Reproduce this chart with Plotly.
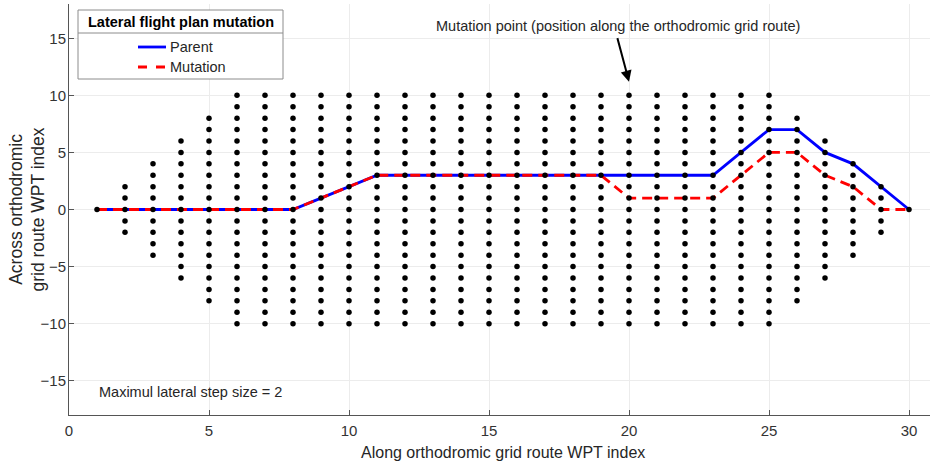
import plotly.graph_objects as go

wpt = list(range(1, 31))
half_width = [0, 2, 4, 6, 8] + [10] * 20 + [8, 6, 4, 2, 0]
parent = [0, 0, 0, 0, 0, 0, 0, 0, 1, 2, 3, 3, 3, 3, 3, 3, 3, 3, 3, 3, 3, 3, 3, 5, 7, 7, 5, 4, 2, 0]
mutation = [0, 0, 0, 0, 0, 0, 0, 0, 1, 2, 3, 3, 3, 3, 3, 3, 3, 3, 3, 1, 1, 1, 1, 3, 5, 5, 3, 2, 0, 0]
mutation_point = 20
legend_title = "Lateral flight plan mutation"
series_names = ["Parent", "Mutation"]
series_colors = ["#0000ff", "#ff0000"]
series_dash = ["solid", "10px,6px"]

gx, gy = [], []
for x, h in zip(wpt, half_width):
    for y in range(-h, h + 1):
        gx.append(x)
        gy.append(y)

FONT = "Liberation Sans, Arial, sans-serif"
TXT = "#262626"
W, H = 930, 462
ML, MR, MT, MB = 69, 0, 4, 47
PW, PH = W - ML - MR, H - MT - MB


def px(x):
    return (x - ML) / PW


def py(y):
    return (H - MB - y) / PH


fig = go.Figure()
fig.add_trace(go.Scatter(x=wpt, y=parent, mode="lines", name=series_names[0], showlegend=False,
                         line=dict(color=series_colors[0], width=2.8, dash=series_dash[0])))
fig.add_trace(go.Scatter(x=wpt, y=mutation, mode="lines", name=series_names[1], showlegend=False,
                         line=dict(color=series_colors[1], width=2.8, dash=series_dash[1])))
fig.add_trace(go.Scatter(x=gx, y=gy, mode="markers", showlegend=False,
                         marker=dict(color="black", size=5.5)))

# arrow to the mutation point
fig.add_annotation(x=mutation_point, y=11.2, ax=-12, ay=-45,
                   showarrow=True, arrowhead=2, arrowsize=1.1, arrowwidth=2,
                   arrowcolor="black", text="")
fig.add_annotation(x=19.59, y=16.09, showarrow=False, xanchor="center", yanchor="middle",
                   text="Mutation point (position along the orthodromic grid route)",
                   font=dict(size=14.5, color=TXT, family=FONT))
fig.add_annotation(x=1.0, y=-15.96, showarrow=False, xanchor="left", yanchor="middle",
                   text="Maximul lateral step size = 2",
                   font=dict(size=14.5, color=TXT, family=FONT))

# axis titles
fig.add_annotation(xref="paper", yref="paper", x=0.5, y=0, yshift=-37, xshift=3,
                   showarrow=False, xanchor="center", yanchor="middle",
                   text="Along orthodromic grid route WPT index",
                   font=dict(size=16, color=TXT, family=FONT))
fig.add_annotation(xref="paper", yref="paper", x=0, y=0.5, xshift=-42,
                   showarrow=False, xanchor="center", yanchor="middle", textangle=-90,
                   text="Across orthodromic<br>grid route WPT index",
                   font=dict(size=17.5, color=TXT, family=FONT))

# legend (drawn by hand to match the boxed, titled legend)
fig.add_shape(type="rect", xref="paper", yref="paper",
              x0=px(78), x1=px(283), y0=py(79), y1=py(10),
              line=dict(color="#8c8c8c", width=1), fillcolor="white", layer="above")
fig.add_shape(type="line", xref="paper", yref="paper",
              x0=px(78), x1=px(283), y0=py(33), y1=py(33),
              line=dict(color="#8c8c8c", width=1), layer="above")
fig.add_annotation(xref="paper", yref="paper", x=px(181), y=py(22), showarrow=False,
                   xanchor="center", yanchor="middle", text="<b>" + legend_title + "</b>",
                   font=dict(size=14.5, color="#000000", family=FONT))
for i, name in enumerate(series_names):
    yy = 47 + 20 * i
    fig.add_shape(type="line", xref="paper", yref="paper",
                  x0=px(138), x1=px(166), y0=py(yy), y1=py(yy), layer="above",
                  line=dict(color=series_colors[i], width=2.8,
                            dash="dash" if i == 1 else "solid"))
    fig.add_annotation(xref="paper", yref="paper", x=px(168), y=py(yy), showarrow=False,
                       xanchor="left", yanchor="middle", text=name,
                       font=dict(size=14.5, color=TXT, family=FONT))

fig.update_layout(
    width=W, height=H,
    margin=dict(l=ML, r=MR, t=MT, b=MB),
    paper_bgcolor="white", plot_bgcolor="white",
    font=dict(family=FONT, size=15, color="#333333"),
    showlegend=False,
    xaxis=dict(range=[0, 30.75], tickvals=[0, 5, 10, 15, 20, 25, 30],
               showgrid=True, gridcolor="#ececec", zeroline=False,
               showline=True, linecolor="#555555", linewidth=1,
               ticks="inside", ticklen=5, tickcolor="#555555",
               ticklabelstandoff=2, automargin=False),
    yaxis=dict(range=[-18, 18], tickvals=[-15, -10, -5, 0, 5, 10, 15],
               ticktext=["\u221215", "\u221210", "\u22125", "0", "5", "10", "15"],
               showgrid=True, gridcolor="#ececec", zeroline=False,
               showline=True, linecolor="#555555", linewidth=1,
               ticks="inside", ticklen=5, tickcolor="#555555",
               ticklabelstandoff=-1, automargin=False),
)
fig.write_html("out.html", config={"displayModeBar": False},
               post_script="document.body.style.margin='0';")
